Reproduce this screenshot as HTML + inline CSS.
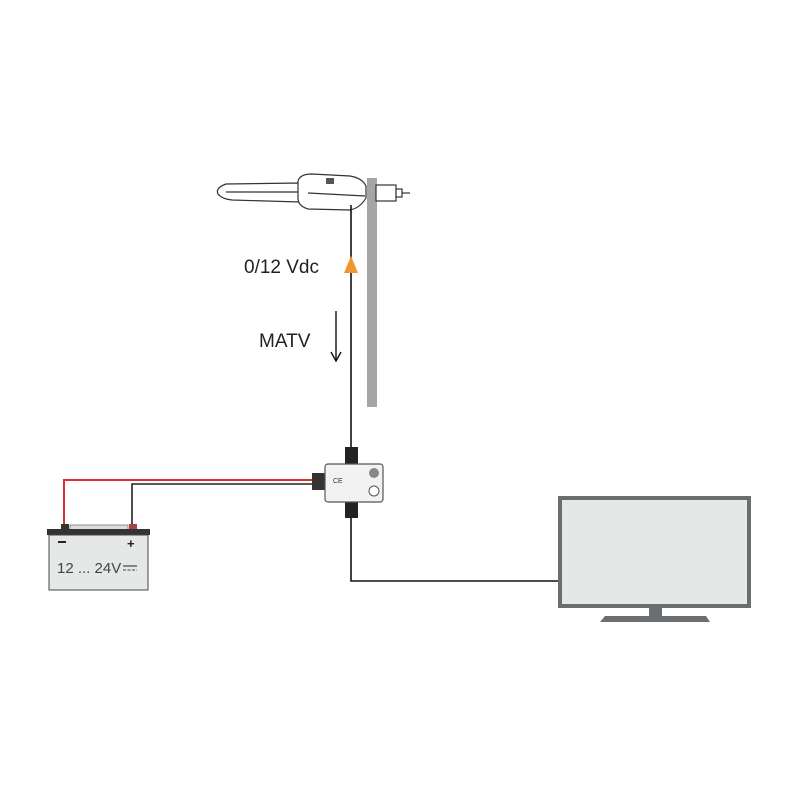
<!DOCTYPE html>
<html><head><meta charset="utf-8"><style>
html,body{margin:0;padding:0;background:#fff;}
svg{display:block;}
text{font-family:"Liberation Sans",sans-serif;}
</style></head><body>
<svg width="800" height="800" viewBox="0 0 800 800" xmlns="http://www.w3.org/2000/svg">
<rect width="800" height="800" fill="#fff"/>
<!-- pole -->
<rect x="367" y="178" width="10" height="229" fill="#a3a5a6"/>
<!-- antenna -->
<g stroke="#333" stroke-width="1.2" fill="#fff">
<path d="M300,183 L226,184 Q215,188 218,194 Q222,199 232,200 L300,202 Z"/>
<path d="M298,181 Q300,174 312,174 L350,176 Q362,178 366,186 L366,198 Q360,208 350,210 L308,209 Q298,206 298,198 Z"/>
<line x1="226" y1="192" x2="298" y2="192"/>
<line x1="308" y1="193" x2="365" y2="196"/>
<rect x="376" y="185" width="20" height="16"/>
<rect x="396" y="189" width="6" height="8"/>
<line x1="402" y1="193" x2="410" y2="193"/>
</g>
<rect x="326" y="178" width="8" height="6" fill="#555"/>
<!-- cables -->
<line x1="351" y1="205" x2="351" y2="450" stroke="#111" stroke-width="1.6"/>
<polyline points="351,515 351,581 560,581" fill="none" stroke="#111" stroke-width="1.6"/>
<polyline points="64,528 64,480 312,480" fill="none" stroke="#d9302b" stroke-width="2"/>
<polyline points="132,528 132,484 312,484" fill="none" stroke="#222" stroke-width="1.6"/>
<!-- splitter -->
<rect x="345" y="447" width="13" height="17" fill="#222"/>
<rect x="345" y="502" width="13" height="16" fill="#222"/>
<rect x="312" y="473" width="14" height="17" fill="#333"/>
<rect x="325" y="464" width="58" height="38" rx="3" fill="#f2f2f2" stroke="#555" stroke-width="1.2"/>
<circle cx="374" cy="473" r="5" fill="#888"/>
<circle cx="374" cy="491" r="5" fill="#fff" stroke="#555"/>
<text x="333" y="483" font-size="7" fill="#333">CE</text>
<!-- arrows/labels -->
<polygon points="351,256 344,273 358,273" fill="#f0962e"/>
<text x="244" y="273" font-size="19" fill="#222">0/12 Vdc</text>
<text x="259" y="347" font-size="19" fill="#222">MATV</text>
<line x1="336" y1="311" x2="336" y2="360" stroke="#111" stroke-width="1.4"/>
<polyline points="331,352 336,361 341,352" fill="none" stroke="#111" stroke-width="1.4"/>
<!-- battery -->
<rect x="61" y="524" width="8" height="6" fill="#333"/>
<rect x="129" y="524" width="8" height="6" fill="#a44"/>
<rect x="70" y="525" width="58" height="5" fill="#ddd" stroke="#777" stroke-width="0.8"/>
<rect x="47" y="529" width="103" height="6" fill="#333"/>
<rect x="49" y="535" width="99" height="55" fill="#e6e7e7" stroke="#444" stroke-width="1"/>
<rect x="58" y="541" width="8" height="2" fill="#222"/>
<text x="127" y="548" font-size="13" font-weight="bold" fill="#222">+</text>
<text x="57" y="573" font-size="15" fill="#444">12 ... 24V</text>
<line x1="123" y1="566" x2="137" y2="566" stroke="#444" stroke-width="1.2"/>
<line x1="123" y1="570" x2="137" y2="570" stroke="#444" stroke-width="1" stroke-dasharray="3,1.5"/>
<!-- TV -->
<rect x="560" y="498" width="189" height="108" fill="#e6e7e7" stroke="#6b6e70" stroke-width="4"/>
<rect x="649" y="608" width="13" height="9" fill="#6b6e70"/>
<polygon points="605,616 706,616 710,622 600,622" fill="#6b6e70"/>
</svg>
</body></html>
